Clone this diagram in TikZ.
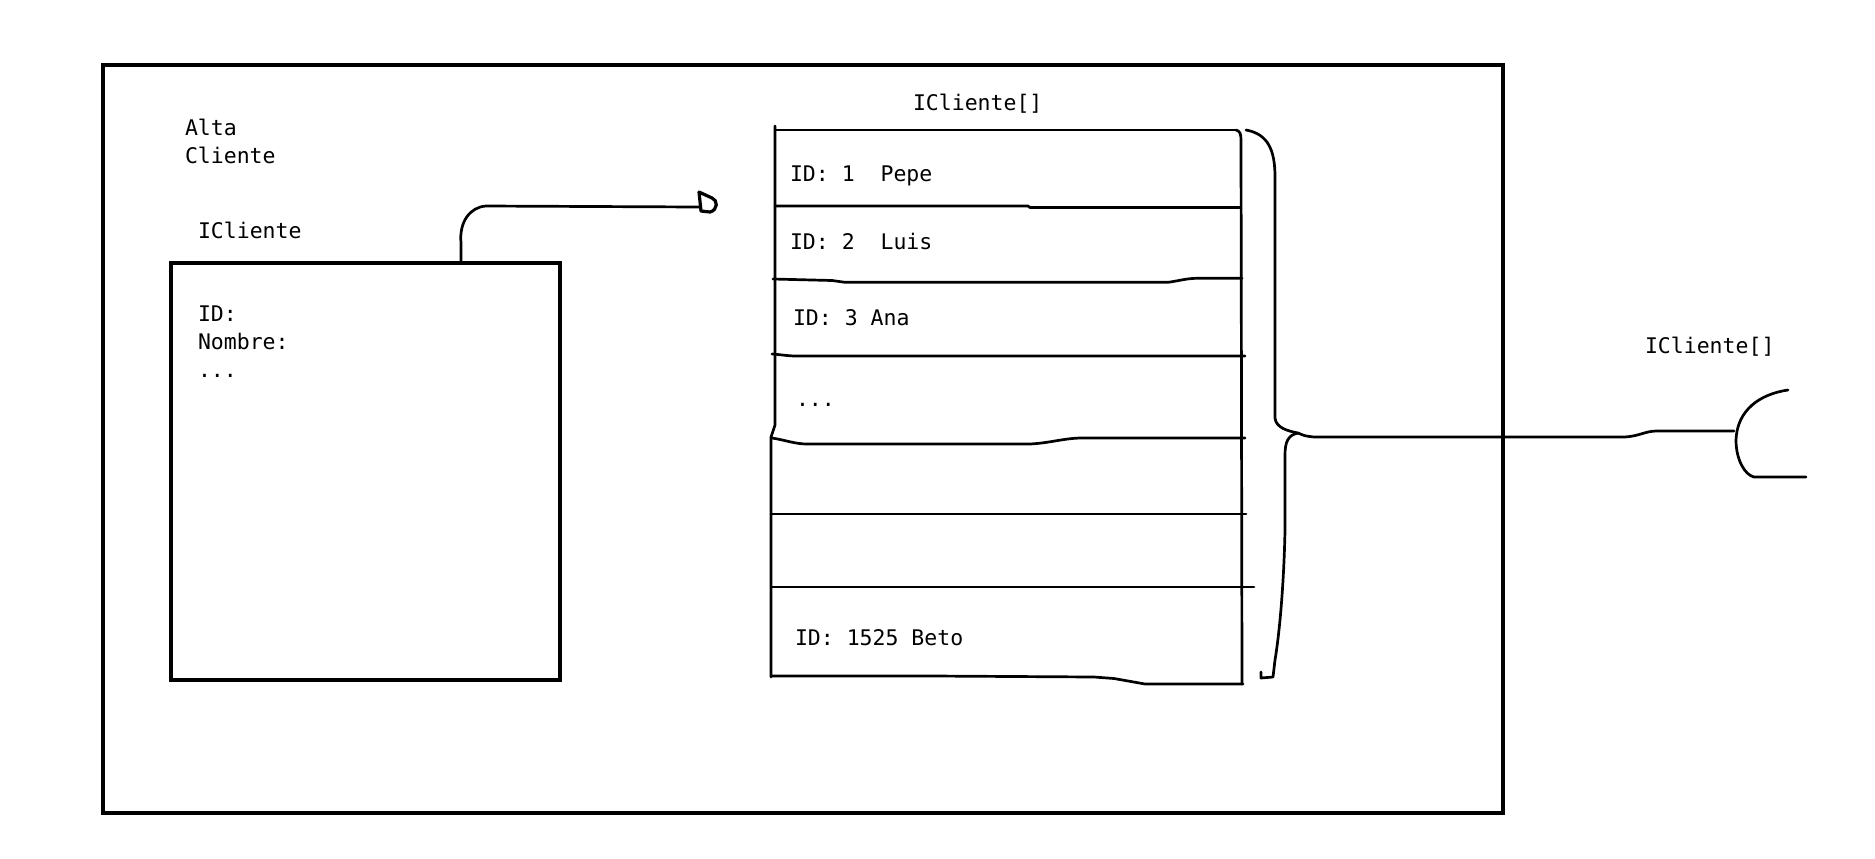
\documentclass[tikz,border=0pt]{standalone}
\usepackage{fontspec}
\setmainfont{DejaVu Sans Mono}
\begin{document}
\begin{tikzpicture}[x=0.5pt,y=-0.5pt, line join=round, line cap=round,
  thinline/.style={line width=1.35pt},
  thickbox/.style={draw, line width=2.3pt, rectangle, inner sep=0pt, outer sep=0pt, anchor=north west, line cap=butt, line join=miter},
  txt/.style={anchor=base west, inner sep=0pt, outer sep=0pt, font=\fontsize{10.75pt}{13pt}\selectfont}]
\useasboundingbox (0,0) rectangle (1875,858);
\fill[white] (0,0) rectangle (1875,858);

% boxes
\node[thickbox, minimum width=700pt, minimum height=374pt] (outer) at (103,65) {};
\node[thickbox, minimum width=194.5pt, minimum height=208.5pt] (ibox) at (171,263) {};

% texts
\node[txt] (alta) at (185,135) {Alta};
\node[txt] (cliente) at (185,163) {Cliente};
\node[txt] (ictitle) at (198,238) {ICliente};
\node[txt] (fid) at (198,321) {ID:};
\node[txt] (fnom) at (198,349) {Nombre:};
\node[txt] (fdots) at (198,377) {...};
\node[txt] (arrtitle) at (913,110) {ICliente[]};
\node[txt] (r1) at (790,181) {ID: 1\ \ Pepe};
\node[txt] (r2) at (790,249) {ID: 2\ \ Luis};
\node[txt] (r3) at (793,325) {ID: 3 Ana};
\node[txt] (r4) at (796,406) {...};
\node[txt] (rn) at (795,645) {ID: 1525 Beto};
\node[txt] (outtitle) at (1645,353) {ICliente[]};

% connector from ICliente box to D marker
\coordinate (c1) at (461,263);
\coordinate (dtip) at (699,207);
\draw[thinline] (c1) -- (461,243) .. controls (459,222) and (470,207) .. (486,206) -- (dtip);
\draw[line width=1.6pt] (699,192) -- (701,211) -- (710,212) .. controls (718,210) and (718,200) .. (712,198) -- (699,192);

% table
\draw[thinline] (775,126) -- (775,425) -- (771,437) -- (771,677);
\draw[thinline] (1236,130) .. controls (1240,131) and (1241,134) .. (1241,140) -- (1242,684);
\draw[thinline] (775,130) -- (1236,130);
\draw[thinline] (775,206) -- (1028,206) -- (1030,207.5) -- (1240,207.5);
\draw[thinline] (773,279) -- (832,280.5) -- (845,282.3) -- (1168,282.3) .. controls (1178,281) and (1186,278.5) .. (1196,278.3) -- (1242,278.3);
\draw[thinline] (772,354) .. controls (780,354.5) and (788,356) .. (796,356) -- (1245,356);
\draw[thinline] (772,438) .. controls (785,440) and (795,444) .. (807,444) -- (1030,444) .. controls (1050,443) and (1065,438) .. (1082,438) -- (1245,438);
\draw[thinline] (772,514) -- (1246,514);
\draw[thinline] (772,587) -- (1254,587);
\draw[thinline] (772,676) -- (933,676) -- (1094,677) -- (1114,678.5) -- (1145,684) -- (1243,684);

% brace
\coordinate (btip) at (1298,433);
\draw[thinline] (1246,130) .. controls (1268,134) and (1275,150) .. (1275,177) -- (1275,418) .. controls (1276,428) and (1288,431) .. (btip);
\draw[thinline] (btip) .. controls (1288,435) and (1285,442) .. (1285,455) -- (1285,530) .. controls (1284,580) and (1280,630) .. (1275,660) -- (1273,677) -- (1261,678) -- (1261,672);

% connector from brace to socket
\coordinate (sock) at (1734,431);
\draw[thinline] (btip) .. controls (1305,436) .. (1314,437) -- (1625,437) .. controls (1640,436) and (1645,431) .. (1657,431) -- (sock);
\draw[thinline] (1788,390) .. controls (1760,394) and (1737,410) .. (1736,440) .. controls (1736,460) and (1745,475) .. (1754,477) -- (1806,477);
\end{tikzpicture}
\end{document}
